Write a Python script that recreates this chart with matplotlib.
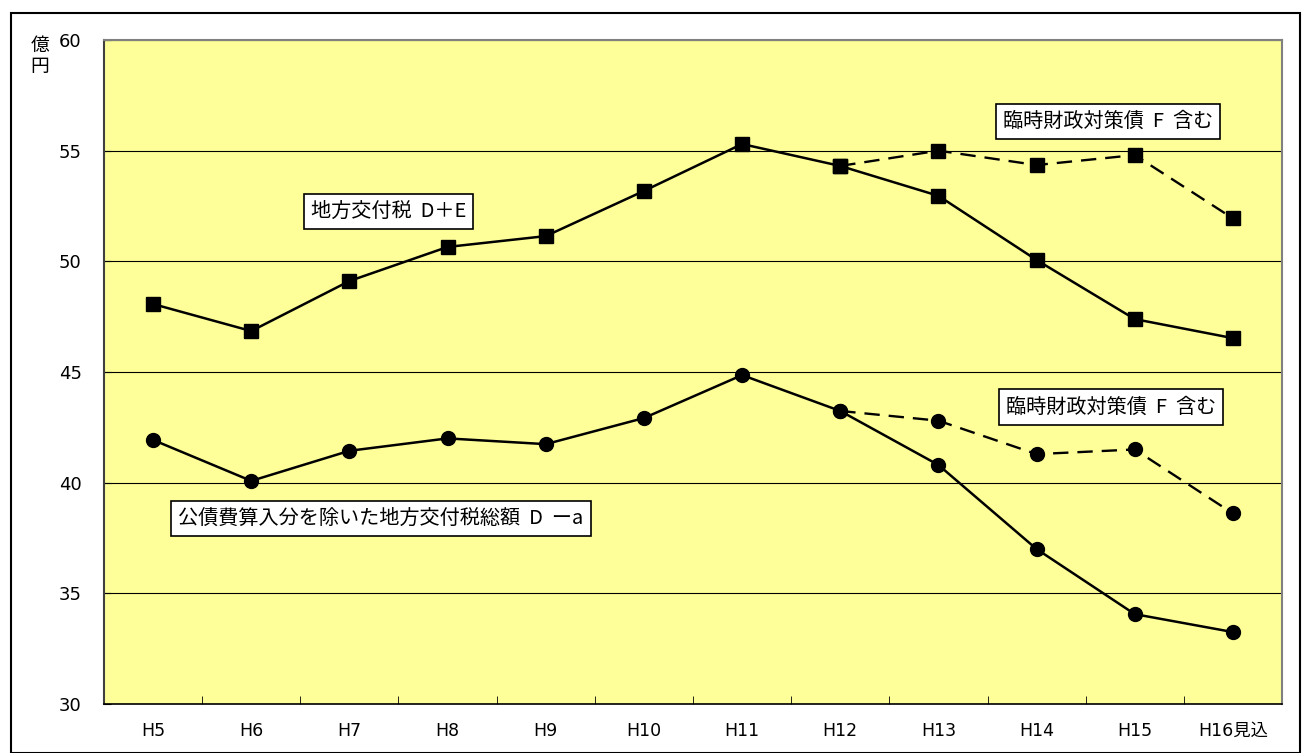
import matplotlib
matplotlib.use("Agg")
import matplotlib.pyplot as plt
from matplotlib.patches import Rectangle

plt.rcParams['font.family'] = ['Noto Sans CJK JP', 'DejaVu Sans']
tickfont = ['DejaVu Sans', 'Noto Sans CJK JP']

categories = ["H5", "H6", "H7", "H8", "H9", "H10", "H11", "H12", "H13", "H14", "H15", "H16見込"]
kofuzei_DE = [48.07, 46.85, 49.11, 50.65, 51.14, 53.18, 55.30, 54.31, 52.96, 50.06, 47.39, 46.53]
kofuzei_DE_F = [None] * 7 + [54.31, 55.00, 54.35, 54.80, 51.94]
sogaku_Da = [41.93, 40.08, 41.44, 42.00, 41.74, 42.92, 44.86, 43.24, 40.80, 37.00, 34.06, 33.25]
sogaku_Da_F = [None] * 7 + [43.24, 42.80, 41.29, 41.50, 38.61]
yticks = [30, 35, 40, 45, 50, 55, 60]

fig = plt.figure(figsize=(13.02, 7.53), dpi=100)
fig.patches.append(Rectangle((11 / 1302, 0), 1289 / 1302, 740 / 753, transform=fig.transFigure,
                             fill=False, edgecolor='black', linewidth=1.5))
ax = fig.add_axes([104 / 1302, 1 - 704 / 753, 1178 / 1302, 664 / 753])
ax.set_facecolor('#FFFF99')

x = list(range(len(categories)))

def split(vals):
    xs = [i for i, v in zip(x, vals) if v is not None]
    ys = [v for v in vals if v is not None]
    return xs, ys

dash = (0, (6.5, 3.8))
xs, ys = split(kofuzei_DE_F)
ax.plot(xs, ys, color='black', lw=1.7, linestyle=dash, marker='s', ms=10, zorder=3)
xs, ys = split(sogaku_Da_F)
ax.plot(xs, ys, color='black', lw=1.7, linestyle=dash, marker='o', ms=10, zorder=3)
ax.plot(x, kofuzei_DE, color='black', lw=1.8, marker='s', ms=10, zorder=4)
ax.plot(x, sogaku_Da, color='black', lw=1.8, marker='o', ms=10, zorder=4)

ax.set_xlim(-0.5, len(categories) - 0.5)
ax.set_ylim(30, 60)
ax.set_yticks(yticks)
ax.set_yticklabels([str(v) for v in yticks], fontsize=13, family=tickfont)
ax.yaxis.grid(True, color='black', linewidth=0.8)
ax.set_axisbelow(True)
ax.tick_params(axis='y', direction='in', length=5, pad=16)

ax.set_xticks(x)
ax.set_xticklabels(categories, fontsize=12.5, family=tickfont)
ax.tick_params(axis='x', which='major', length=0, pad=13)
ax.set_xticks([i + 0.5 for i in x[:-1]], minor=True)
ax.tick_params(axis='x', which='minor', direction='in', length=6, color='black')

for side in ['top', 'right']:
    ax.spines[side].set_color('#808080')
    ax.spines[side].set_linewidth(1.5)
ax.spines['left'].set_color('#404040')
ax.spines['left'].set_linewidth(1.5)
ax.spines['bottom'].set_color('black')
ax.spines['bottom'].set_linewidth(1.2)

bbox = dict(boxstyle='square,pad=0.35', facecolor='white', edgecolor='black', linewidth=1.2)
ax.text(2.40, 52.27, "地方交付税  D＋E", fontsize=14.5, ha='center', va='center', bbox=bbox, zorder=5)
ax.text(9.73, 56.32, "臨時財政対策債  F  含む", fontsize=14.5, ha='center', va='center', bbox=bbox, zorder=5)
ax.text(9.76, 43.42, "臨時財政対策債  F  含む", fontsize=14.5, ha='center', va='center', bbox=bbox, zorder=5)
ax.text(2.32, 38.38, "公債費算入分を除いた地方交付税総額  D  ーa", fontsize=14.5, ha='center', va='center', bbox=bbox, zorder=5)

fig.text(40 / 1302, 1 - 56 / 753, "億\n円", fontsize=13.5, ha='center', va='center', linespacing=1.05)

fig.savefig("out.png", dpi=100)
